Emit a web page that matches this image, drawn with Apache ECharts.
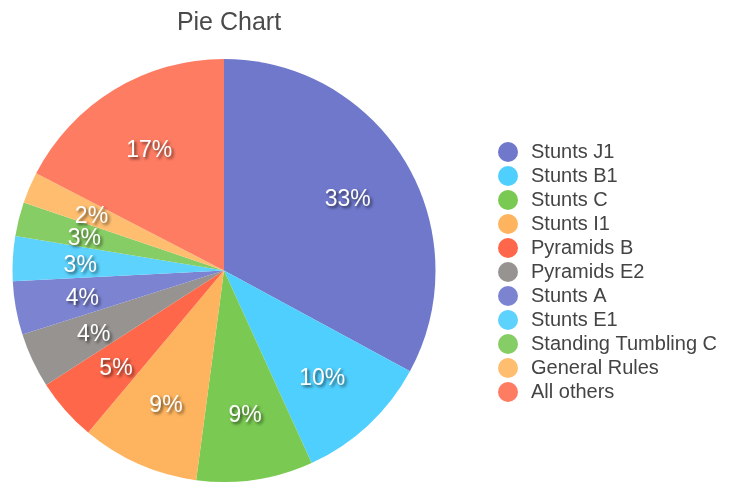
<!DOCTYPE html>
<html>
<head>
<meta charset="utf-8">
<script src="https://cdn.jsdelivr.net/npm/echarts@6/dist/echarts.min.js"></script>
<style>
  html, body { margin: 0; padding: 0; background: #fff; }
  #host { width: 729px; height: 485px; }
</style>
</head>
<body>
<div id="host"></div>
<script>
const categories = [
  "Stunts J1", "Stunts B1", "Stunts C", "Stunts I1", "Pyramids B",
  "Pyramids E2", "Stunts A", "Stunts E1", "Standing Tumbling C",
  "General Rules", "All others"
];
const shares = [32.9, 10.3, 8.9, 9.0, 4.8, 4.2, 4.1, 3.4, 2.6, 2.4, 17.4];
const colors = [
  "#6f78cb", "#4fcffd", "#79c952", "#feb45e", "#fe674a",
  "#979390", "#7c84d2", "#5cd2fc", "#87cd65", "#febd6f", "#fe7c62"
];

const total = shares.reduce((a, b) => a + b, 0);
const data = categories.map((name, i) => ({
  name,
  value: shares[i],
  itemStyle: { color: colors[i] },
}));

const font = "'Liberation Sans', Helvetica, Arial, sans-serif";
const chart = echarts.init(document.getElementById("host"));

chart.setOption({
  animation: false,
  color: colors,
  title: {
    text: "Pie Chart",
    left: 224,
    textAlign: "center",
    top: 6,
    textStyle: { fontFamily: font, fontSize: 25, fontWeight: "normal", color: "#4a4a4a" },
  },
  legend: {
    orient: "vertical",
    left: 493,
    top: 137,
    icon: "circle",
    itemWidth: 36,
    itemHeight: 20,
    itemGap: 4,
    data: categories,
    textStyle: { fontFamily: font, fontSize: 20, color: "#444" },
  },
  series: [
    {
      type: "pie",
      center: [224, 270.5],
      radius: [0, 211.5],
      startAngle: 90,
      clockwise: true,
      label: { show: false },
      labelLine: { show: false },
      emphasis: { disabled: true },
      data,
    },
    {
      // transparent ring only used to place the percent labels
      type: "pie",
      center: [224, 270.5],
      radius: [116, 166],
      startAngle: 90,
      clockwise: true,
      silent: true,
      itemStyle: { color: "transparent" },
      labelLine: { show: false },
      labelLayout: { hideOverlap: false },
      label: {
        show: true,
        position: "inside",
        offset: [0, 3],
        fontFamily: font,
        fontSize: 23,
        color: "#fff",
        textShadowColor: "rgba(0,0,0,0.6)",
        textShadowBlur: 3,
        textShadowOffsetX: 2,
        textShadowOffsetY: 2,
        formatter: (p) => Math.round((p.value / total) * 100) + "%",
      },
      data: categories.map((name, i) => ({ name, value: shares[i] })),
    },
  ],
});
</script>
</body>
</html>
